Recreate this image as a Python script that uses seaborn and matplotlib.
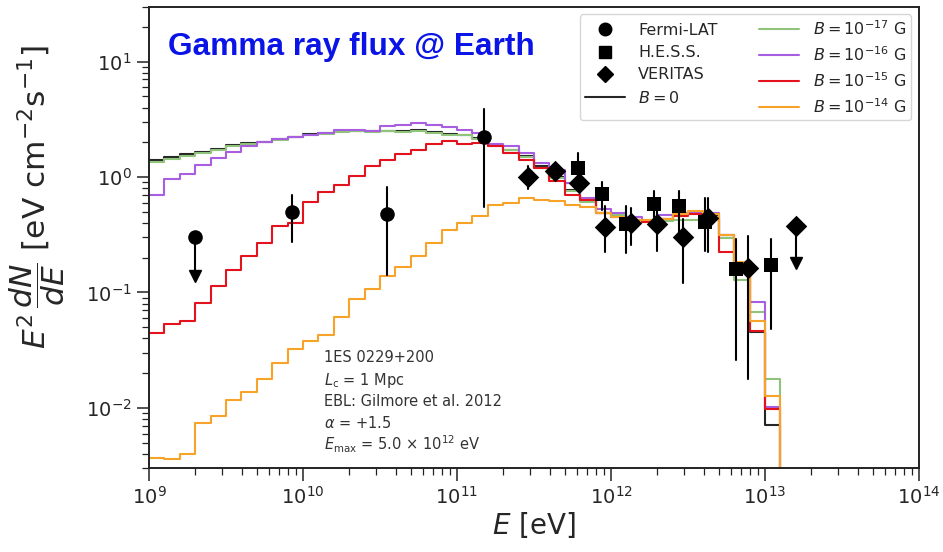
import numpy as np
import pandas as pd
import matplotlib
matplotlib.use("Agg")
import matplotlib.pyplot as plt
from matplotlib.lines import Line2D
import seaborn as sns

# ---------------- data ----------------
# energy bin edges (log10 eV), 0.1-decade bins
bin_edges_log = np.round(np.arange(9.0, 13.15, 0.1), 2)

flux_B0 = [1.41, 1.49, 1.58, 1.64, 1.75, 1.90, 1.97, 2.03, 2.13, 2.24,
           2.34, 2.40, 2.48, 2.51, 2.48, 2.51, 2.51, 2.56, 2.45, 2.36,
           2.32, 2.17, 1.90, 1.72, 1.53, 1.24, 1.01, 0.776, 0.615, 0.489,
           0.468, 0.427, 0.417, 0.437, 0.468, 0.501, 0.468, 0.316, 0.174, 0.0457,
           0.00706]
flux_B17 = [1.36, 1.44, 1.53, 1.60, 1.71, 1.86, 1.93, 2.00, 2.10, 2.21,
            2.32, 2.37, 2.45, 2.48, 2.45, 2.48, 2.45, 2.48, 2.40, 2.32,
            2.29, 2.14, 1.86, 1.70, 1.48, 1.20, 0.977, 0.759, 0.603, 0.490,
            0.468, 0.427, 0.407, 0.417, 0.427, 0.427, 0.437, 0.296, 0.129, 0.0676,
            0.0178]
flux_B16 = [0.703, 0.962, 1.07, 1.28, 1.46, 1.66, 1.87, 2.00, 2.14, 2.24,
            2.32, 2.40, 2.56, 2.56, 2.51, 2.74, 2.83, 2.92, 2.82, 2.69,
            2.54, 2.40, 1.95, 1.85, 1.60, 1.32, 1.14, 0.893, 0.652, 0.531,
            0.490, 0.447, 0.427, 0.468, 0.490, 0.501, 0.490, 0.316, 0.174, 0.0832,
            0.0102]
flux_B15 = [0.0447, 0.0538, 0.0564, 0.0818, 0.113, 0.158, 0.207, 0.269, 0.379, 0.397,
            0.605, 0.740, 0.857, 1.03, 1.25, 1.41, 1.58, 1.73, 1.92, 2.04,
            1.95, 1.97, 1.84, 1.61, 1.41, 1.20, 0.916, 0.703, 0.637, 0.489,
            0.452, 0.428, 0.407, 0.434, 0.457, 0.482, 0.442, 0.224, 0.158, 0.0468,
            0.0097]
flux_B14 = [0.00371, 0.00363, 0.00396, 0.00735, 0.00849, 0.0117, 0.0138, 0.0179, 0.0243, 0.0325,
            0.0380, 0.0427, 0.0617, 0.0871, 0.107, 0.139, 0.167, 0.208, 0.269, 0.350,
            0.398, 0.457, 0.575, 0.596, 0.658, 0.637, 0.615, 0.575, 0.550, 0.489,
            0.447, 0.427, 0.422, 0.437, 0.479, 0.507, 0.479, 0.316, 0.182, 0.0562,
            0.0126]

curve_labels = [r"$B = 0$", r"$B = 10^{-17}$ G", r"$B = 10^{-16}$ G",
                r"$B = 10^{-15}$ G", r"$B = 10^{-14}$ G"]
curve_colors = ["#262626", "#8fc47a", "#a85ee0", "#e3121c", "#f7a32a"]

# Fermi-LAT
fermi_E = [2.0e9, 8.5e9, 3.5e10, 1.5e11]
fermi_F = [0.30, 0.50, 0.48, 2.24]
fermi_lo = [0.138, 0.274, 0.141, 0.55]
fermi_hi = [0.30, 0.70, 0.82, 3.88]
fermi_ul = [True, False, False, False]

# H.E.S.S.
hess_E = [6.08e11, 8.75e11, 1.26e12, 1.89e12, 2.78e12, 4.10e12, 6.47e12, 1.10e13]
hess_F = [1.20, 0.713, 0.395, 0.580, 0.565, 0.405, 0.160, 0.172]
hess_lo = [0.89, 0.52, 0.22, 0.39, 0.33, 0.227, 0.026, 0.048]
hess_hi = [1.63, 0.90, 0.557, 0.75, 0.75, 0.66, 0.29, 0.29]

# VERITAS
ver_E = [2.88e11, 4.3e11, 6.24e11, 9.16e11, 1.35e12, 1.99e12, 2.92e12, 4.24e12, 7.7e12, 1.6e13]
ver_F = [1.01, 1.13, 0.887, 0.366, 0.40, 0.394, 0.30, 0.44, 0.163, 0.374]
ver_lo = [0.787, 0.98, 0.75, 0.223, 0.26, 0.23, 0.121, 0.223, 0.0177, 0.18]
ver_hi = [1.24, 1.32, 1.05, 0.557, 0.54, 0.53, 0.43, 0.66, 0.306, 0.374]
ver_ul = [False] * 9 + [True]

info_lines = ["1ES 0229+200", r"$L_\mathrm{c}$ = 1 Mpc", "EBL: Gilmore et al. 2012",
              r"$\alpha$ = +1.5", r"$E_\mathrm{max}$ = 5.0 $\times$ 10$^{12}$ eV"]

# ---------------- plot ----------------
sns.set_style("ticks")
plt.rcParams["font.family"] = ["DejaVu Sans"]
plt.rcParams["mathtext.fontset"] = "dejavusans"

fig = plt.figure(figsize=(9.43, 5.52), dpi=100)
ax = fig.add_axes([149 / 943, 1 - 468.3 / 552, (919 - 149) / 943, (468.3 - 6.5) / 552])
ax.set_xscale("log")
ax.set_yscale("log")

edges = 10.0 ** bin_edges_log
for vals, col in zip([flux_B0, flux_B17, flux_B16, flux_B15, flux_B14], curve_colors):
    df = pd.DataFrame({"E": edges, "F": list(vals) + [1e-6]})
    sns.lineplot(data=df, x="E", y="F", drawstyle="steps-post", color=col, lw=1.5,
                 estimator=None, sort=False, ax=ax, legend=False)

def draw_points(E, F, lo, hi, marker, ms, ul=None):
    ul = ul if ul is not None else [False] * len(E)
    for e, f, l, h, u in zip(E, F, lo, hi, ul):
        ax.plot([e, e], [l, h], color="black", lw=1.5, zorder=5)
        if u:
            ax.plot([e], [l], marker="v", color="black", ms=9, ls="none", zorder=6)
    sns.scatterplot(x=E, y=F, marker=marker, s=ms, color="black", edgecolor="black",
                    linewidth=0, ax=ax, zorder=7, legend=False)

draw_points(fermi_E, fermi_F, fermi_lo, fermi_hi, "o", 110, fermi_ul)
draw_points(hess_E, hess_F, hess_lo, hess_hi, "s", 110)
draw_points(ver_E, ver_F, ver_lo, ver_hi, "D", 120, ver_ul)

ax.set_xlim(1e9, 1e14)
ax.set_ylim(3e-3, 30)

ax.tick_params(which="major", length=9, width=1.1, labelsize=14, direction="out", color="#222222")
ax.tick_params(which="minor", length=5, width=0.9, direction="out", color="#222222")
for s in ax.spines.values():
    s.set_linewidth(1.4)
    s.set_color("#222222")
ax.xaxis.set_major_locator(matplotlib.ticker.LogLocator(base=10, numticks=10))
ax.xaxis.set_minor_locator(matplotlib.ticker.LogLocator(base=10, subs=np.arange(2, 10), numticks=20))
ax.yaxis.set_minor_locator(matplotlib.ticker.LogLocator(base=10, subs=np.arange(2, 10), numticks=20))
ax.xaxis.set_minor_formatter(matplotlib.ticker.NullFormatter())
ax.yaxis.set_minor_formatter(matplotlib.ticker.NullFormatter())

ax.set_xlabel(r"$E$ [eV]", fontsize=20, labelpad=2)
ax.set_ylabel(r"$E^2\,\dfrac{dN}{dE}$ [eV cm$^{-2}$s$^{-1}$]", fontsize=22.5)
ax.yaxis.set_label_coords(-0.106, 0.587)

ax.text(0.0247, 0.895, "Gamma ray flux @ Earth", transform=ax.transAxes,
        fontsize=22.8, fontweight="bold", color="#0a14e6", family="Liberation Sans",
        va="baseline", ha="left")

info_y = [0.239, 0.19, 0.144, 0.0975, 0.0526]
for txt, yy in zip(info_lines, info_y):
    ax.text(0.227, yy, txt, transform=ax.transAxes, fontsize=10.5, color="#333333",
            va="center", ha="left")

handles = [
    Line2D([], [], marker="o", color="black", ls="none", ms=9),
    Line2D([], [], marker="s", color="black", ls="none", ms=8.5),
    Line2D([], [], marker="D", color="black", ls="none", ms=8.5),
    Line2D([], [], color=curve_colors[0], lw=1.5),
    Line2D([], [], color=curve_colors[1], lw=1.5),
    Line2D([], [], color=curve_colors[2], lw=1.5),
    Line2D([], [], color=curve_colors[3], lw=1.5),
    Line2D([], [], color=curve_colors[4], lw=1.5),
]
labels = ["Fermi-LAT", "H.E.S.S.", "VERITAS", curve_labels[0]] + curve_labels[1:]
leg = ax.legend(handles, labels, loc="upper right", ncol=2, fontsize=11.5,
                handlelength=2.5, handletextpad=0.85, columnspacing=2.6,
                labelspacing=0.45, borderpad=0.3, borderaxespad=0.5,
                frameon=True, fancybox=True)
leg.get_frame().set_edgecolor("#cccccc")
leg.get_frame().set_linewidth(1.0)

fig.savefig("out.png", dpi=100)
